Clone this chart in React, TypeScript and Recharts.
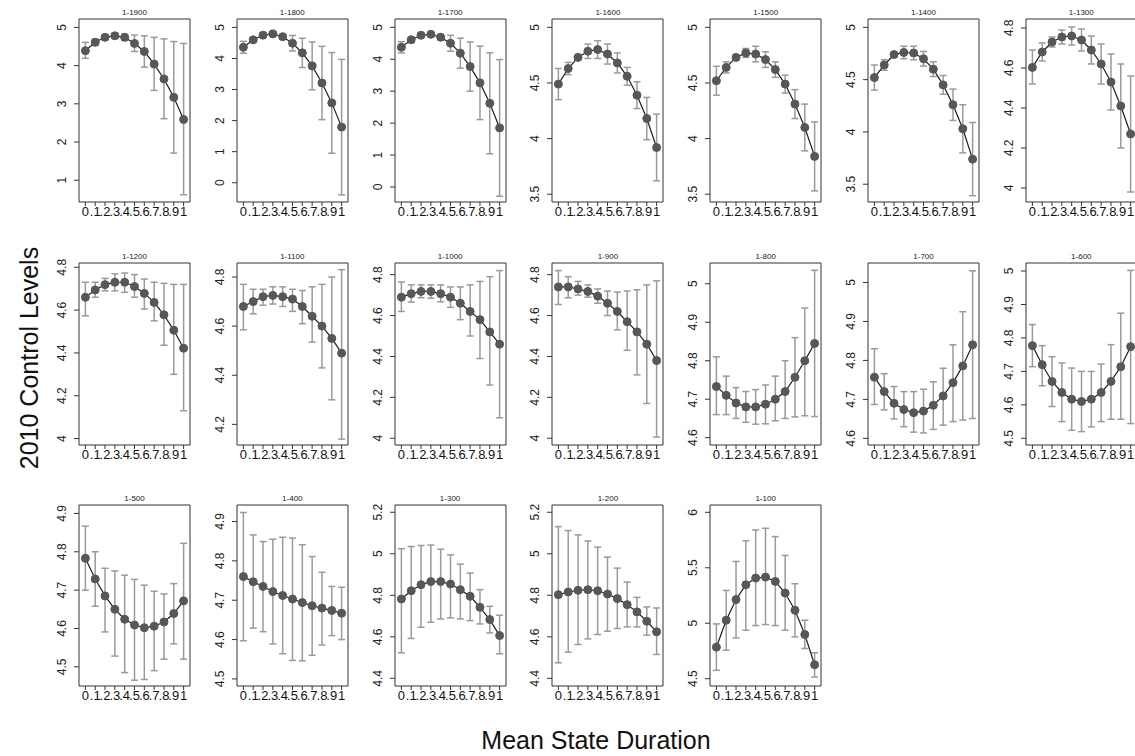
import React from "react";
import { ComposedChart, Line, XAxis, YAxis, ErrorBar, ReferenceArea } from "recharts";

// x positions shared by every panel
const durations = [0, 0.1, 0.2, 0.3, 0.4, 0.5, 0.6, 0.7, 0.8, 0.9, 1];
const durationLabels = ["0", ".1", ".2", ".3", ".4", ".5", ".6", ".7", ".8", ".9", "1"];

// row 1
const mean1900 = [4.39, 4.61, 4.74, 4.78, 4.74, 4.58, 4.37, 4.04, 3.65, 3.17, 2.59];
const hi1900 = [4.61, 4.69, 4.8, 4.85, 4.82, 4.8, 4.78, 4.74, 4.7, 4.63, 4.58];
const lo1900 = [4.19, 4.53, 4.68, 4.71, 4.66, 4.37, 3.96, 3.35, 2.61, 1.71, 0.62];

const mean1800 = [4.36, 4.6, 4.75, 4.79, 4.7, 4.49, 4.18, 3.76, 3.21, 2.57, 1.79];
const hi1800 = [4.55, 4.67, 4.81, 4.86, 4.77, 4.74, 4.65, 4.53, 4.39, 4.19, 3.97];
const lo1800 = [4.17, 4.53, 4.69, 4.72, 4.63, 4.24, 3.71, 2.99, 2.03, 0.95, -0.39];

const mean1700 = [4.375, 4.61, 4.75, 4.78, 4.69, 4.5, 4.19, 3.77, 3.26, 2.62, 1.85];
const hi1700 = [4.55, 4.68, 4.81, 4.85, 4.78, 4.75, 4.66, 4.54, 4.41, 4.2, 3.99];
const lo1700 = [4.2, 4.54, 4.69, 4.71, 4.6, 4.25, 3.72, 3.0, 2.11, 1.04, -0.29];

const mean1600 = [4.49, 4.63, 4.73, 4.785, 4.8, 4.76, 4.68, 4.56, 4.39, 4.18, 3.92];
const hi1600 = [4.63, 4.685, 4.755, 4.85, 4.88, 4.85, 4.77, 4.64, 4.51, 4.37, 4.22];
const lo1600 = [4.35, 4.575, 4.705, 4.72, 4.72, 4.67, 4.59, 4.48, 4.27, 3.99, 3.62];

const mean1500 = [4.52, 4.64, 4.73, 4.77, 4.76, 4.71, 4.62, 4.49, 4.31, 4.1, 3.84];
const hi1500 = [4.65, 4.69, 4.75, 4.81, 4.83, 4.78, 4.69, 4.57, 4.44, 4.31, 4.15];
const lo1500 = [4.39, 4.59, 4.71, 4.73, 4.69, 4.64, 4.55, 4.41, 4.18, 3.89, 3.53];

const mean1400 = [4.52, 4.64, 4.74, 4.76, 4.755, 4.7, 4.6, 4.45, 4.26, 4.03, 3.74];
const hi1400 = [4.64, 4.69, 4.765, 4.82, 4.82, 4.77, 4.67, 4.54, 4.41, 4.26, 4.09];
const lo1400 = [4.4, 4.59, 4.715, 4.7, 4.69, 4.63, 4.53, 4.36, 4.11, 3.8, 3.39];

const mean1300 = [4.603, 4.68, 4.73, 4.755, 4.76, 4.74, 4.69, 4.62, 4.53, 4.41, 4.27];
const hi1300 = [4.69, 4.725, 4.755, 4.79, 4.805, 4.795, 4.76, 4.72, 4.67, 4.62, 4.56];
const lo1300 = [4.52, 4.635, 4.705, 4.72, 4.715, 4.685, 4.62, 4.52, 4.39, 4.2, 3.98];

// row 2
const mean1200 = [4.66, 4.694, 4.719, 4.73, 4.73, 4.71, 4.678, 4.636, 4.578, 4.506, 4.422];
const hi1200 = [4.73, 4.73, 4.748, 4.769, 4.773, 4.766, 4.745, 4.73, 4.725, 4.72, 4.72];
const lo1200 = [4.573, 4.66, 4.69, 4.69, 4.683, 4.66, 4.605, 4.55, 4.436, 4.3, 4.13];

const mean1100 = [4.68, 4.7, 4.72, 4.725, 4.72, 4.71, 4.68, 4.64, 4.6, 4.55, 4.49];
const hi1100 = [4.77, 4.75, 4.75, 4.76, 4.76, 4.75, 4.745, 4.76, 4.77, 4.8, 4.83];
const lo1100 = [4.585, 4.65, 4.685, 4.69, 4.68, 4.66, 4.61, 4.535, 4.43, 4.3, 4.14];

const mean1000 = [4.69, 4.707, 4.718, 4.718, 4.707, 4.69, 4.66, 4.62, 4.58, 4.52, 4.46];
const hi1000 = [4.764, 4.75, 4.75, 4.75, 4.75, 4.74, 4.74, 4.75, 4.767, 4.79, 4.82];
const lo1000 = [4.62, 4.666, 4.687, 4.685, 4.667, 4.64, 4.58, 4.5, 4.39, 4.26, 4.1];

const mean900 = [4.74, 4.74, 4.73, 4.718, 4.695, 4.66, 4.62, 4.57, 4.52, 4.46, 4.38];
const hi900 = [4.82, 4.79, 4.767, 4.75, 4.73, 4.72, 4.715, 4.72, 4.726, 4.75, 4.77];
const lo900 = [4.654, 4.687, 4.7, 4.69, 4.66, 4.6, 4.53, 4.43, 4.31, 4.17, 4.006];

const mean800 = [4.733, 4.71, 4.69, 4.68, 4.68, 4.687, 4.7, 4.72, 4.757, 4.8, 4.845];
const hi800 = [4.81, 4.76, 4.73, 4.72, 4.725, 4.737, 4.76, 4.8, 4.86, 4.937, 5.035];
const lo800 = [4.66, 4.66, 4.65, 4.64, 4.635, 4.636, 4.644, 4.65, 4.654, 4.657, 4.655];

const mean700 = [4.757, 4.72, 4.69, 4.674, 4.666, 4.67, 4.685, 4.709, 4.743, 4.786, 4.84];
const hi700 = [4.83, 4.766, 4.733, 4.72, 4.72, 4.726, 4.745, 4.78, 4.84, 4.925, 5.03];
const lo700 = [4.687, 4.673, 4.65, 4.63, 4.616, 4.614, 4.623, 4.634, 4.643, 4.647, 4.651];

const mean600 = [4.777, 4.72, 4.67, 4.637, 4.617, 4.61, 4.617, 4.637, 4.67, 4.714, 4.774];
const hi600 = [4.84, 4.777, 4.744, 4.725, 4.71, 4.7, 4.7, 4.722, 4.78, 4.874, 5.002];
const lo600 = [4.714, 4.657, 4.595, 4.55, 4.524, 4.52, 4.534, 4.55, 4.557, 4.557, 4.544];

// row 3
const mean500 = [4.783, 4.729, 4.685, 4.65, 4.624, 4.609, 4.602, 4.606, 4.617, 4.639, 4.672];
const hi500 = [4.867, 4.8, 4.757, 4.75, 4.739, 4.728, 4.713, 4.697, 4.69, 4.717, 4.822];
const lo500 = [4.7, 4.658, 4.591, 4.528, 4.485, 4.465, 4.467, 4.49, 4.52, 4.56, 4.52];

const mean400 = [4.76, 4.747, 4.735, 4.722, 4.712, 4.703, 4.694, 4.686, 4.68, 4.674, 4.667];
const hi400 = [4.923, 4.866, 4.849, 4.855, 4.86, 4.858, 4.841, 4.811, 4.771, 4.735, 4.733];
const lo400 = [4.597, 4.629, 4.62, 4.589, 4.564, 4.547, 4.546, 4.56, 4.586, 4.61, 4.6];

const mean300 = [4.782, 4.822, 4.851, 4.866, 4.866, 4.854, 4.827, 4.795, 4.742, 4.683, 4.606];
const hi300 = [5.024, 5.035, 5.04, 5.042, 5.022, 4.995, 4.95, 4.907, 4.827, 4.747, 4.704];
const lo300 = [4.523, 4.592, 4.646, 4.67, 4.686, 4.691, 4.686, 4.678, 4.662, 4.619, 4.518];

const mean200 = [4.803, 4.816, 4.824, 4.827, 4.822, 4.806, 4.784, 4.755, 4.72, 4.675, 4.624];
const hi200 = [5.131, 5.112, 5.091, 5.062, 5.032, 4.984, 4.931, 4.864, 4.79, 4.744, 4.739];
const lo200 = [4.475, 4.526, 4.563, 4.59, 4.611, 4.627, 4.64, 4.648, 4.648, 4.608, 4.515];

const mean100 = [4.784, 5.027, 5.213, 5.347, 5.407, 5.416, 5.377, 5.272, 5.117, 4.898, 4.626];
const hi100 = [4.994, 5.296, 5.557, 5.743, 5.841, 5.856, 5.781, 5.611, 5.356, 5.027, 4.734];
const lo100 = [4.575, 4.757, 4.868, 4.937, 4.979, 4.988, 4.979, 4.937, 4.877, 4.772, 4.515];

// y tick sets
const ticks0to5 = [0, 1, 2, 3, 4, 5];
const ticks1to5 = [1, 2, 3, 4, 5];
const ticks35to5 = [3.5, 4, 4.5, 5];
const ticks4to48 = [4, 4.2, 4.4, 4.6, 4.8];
const ticks42to48 = [4.2, 4.4, 4.6, 4.8];
const ticks46to5 = [4.6, 4.7, 4.8, 4.9, 5];
const ticks45to5 = [4.5, 4.6, 4.7, 4.8, 4.9, 5];
const ticks45to49 = [4.5, 4.6, 4.7, 4.8, 4.9];
const ticks44to52 = [4.4, 4.6, 4.8, 5, 5.2];
const ticks45to6 = [4.5, 5, 5.5, 6];

const panels = [
  { title: "1-1900", mean: mean1900, hi: hi1900, lo: lo1900, ticks: ticks1to5, domain: [0.43, 5.22] },
  { title: "1-1800", mean: mean1800, hi: hi1800, lo: lo1800, ticks: ticks0to5, domain: [-0.62, 5.27] },
  { title: "1-1700", mean: mean1700, hi: hi1700, lo: lo1700, ticks: ticks0to5, domain: [-0.47, 5.26] },
  { title: "1-1600", mean: mean1600, hi: hi1600, lo: lo1600, ticks: ticks35to5, domain: [3.43, 5.075] },
  { title: "1-1500", mean: mean1500, hi: hi1500, lo: lo1500, ticks: ticks35to5, domain: [3.43, 5.075] },
  { title: "1-1400", mean: mean1400, hi: hi1400, lo: lo1400, ticks: ticks35to5, domain: [3.33, 5.08] },
  { title: "1-1300", mean: mean1300, hi: hi1300, lo: lo1300, ticks: ticks4to48, domain: [3.93, 4.845] },
  { title: "1-1200", mean: mean1200, hi: hi1200, lo: lo1200, ticks: ticks4to48, domain: [3.97, 4.82] },
  { title: "1-1100", mean: mean1100, hi: hi1100, lo: lo1100, ticks: ticks42to48, domain: [4.116, 4.857] },
  { title: "1-1000", mean: mean1000, hi: hi1000, lo: lo1000, ticks: ticks4to48, domain: [3.967, 4.857] },
  { title: "1-900", mean: mean900, hi: hi900, lo: lo900, ticks: ticks4to48, domain: [3.967, 4.857] },
  { title: "1-800", mean: mean800, hi: hi800, lo: lo800, ticks: ticks46to5, domain: [4.581, 5.054] },
  { title: "1-700", mean: mean700, hi: hi700, lo: lo700, ticks: ticks46to5, domain: [4.583, 5.05] },
  { title: "1-600", mean: mean600, hi: hi600, lo: lo600, ticks: ticks45to5, domain: [4.48, 5.024] },
  { title: "1-500", mean: mean500, hi: hi500, lo: lo500, ticks: ticks45to49, domain: [4.45, 4.922] },
  { title: "1-400", mean: mean400, hi: hi400, lo: lo400, ticks: ticks45to49, domain: [4.482, 4.942] },
  { title: "1-300", mean: mean300, hi: hi300, lo: lo300, ticks: ticks44to52, domain: [4.363, 5.235] },
  { title: "1-200", mean: mean200, hi: hi200, lo: lo200, ticks: ticks44to52, domain: [4.363, 5.235] },
  { title: "1-100", mean: mean100, hi: hi100, lo: lo100, ticks: ticks45to6, domain: [4.434, 6.066] },
];

const FONT = "'Liberation Sans', Arial, Helvetica, sans-serif";
const X_DOMAIN = [-0.065, 1.065];
const BOX_W = 111;
const ROW_TOP = [18.5, 262.5, 505];
const ROW_H = [183, 182, 181];
const Y_W = 40;
const M_TOP = 14;
const M_RIGHT = 4;
const X_H = 28;

function YTick(props: any) {
  const { x, y, payload } = props;
  return (
    <text
      x={x}
      y={y}
      transform={`rotate(-90 ${x} ${y})`}
      textAnchor="middle"
      fontSize={12}
      fontFamily={FONT}
      fill="#222"
    >
      {payload.value}
    </text>
  );
}

function Panel({ p, idx }: { p: any; idx: number }) {
  const col = idx % 7;
  const row = Math.floor(idx / 7);
  const boxLeft = 79 + col * 157.8;
  const boxTop = ROW_TOP[row];
  const boxH = ROW_H[row];

  const rows = durations.map((x, k) => ({
    x,
    mean: p.mean[k],
    err: [p.mean[k] - p.lo[k], p.hi[k] - p.mean[k]],
  }));

  return (
    <>
      <div
        style={{
          position: "absolute",
          left: boxLeft,
          top: boxTop - 11,
          width: BOX_W,
          textAlign: "center",
          fontSize: 8,
          fontFamily: FONT,
          color: "#222",
          lineHeight: "9px",
          zIndex: 2,
        }}
      >
        {p.title}
      </div>
      <div style={{ position: "absolute", left: boxLeft - Y_W, top: boxTop - M_TOP }}>
        <ComposedChart
          width={Y_W + BOX_W + M_RIGHT}
          height={M_TOP + boxH + X_H}
          data={rows}
          margin={{ top: M_TOP, right: M_RIGHT, left: 0, bottom: 0 }}
        >
          <XAxis
            type="number"
            dataKey="x"
            domain={X_DOMAIN}
            allowDataOverflow
            ticks={durations}
            interval={0}
            tickFormatter={(v: number) => durationLabels[durations.indexOf(v)]}
            tickSize={4}
            tickMargin={1}
            axisLine={false}
            tickLine={{ stroke: "#333" }}
            tick={{ fontSize: 13, fill: "#111", fontFamily: FONT }}
            height={X_H}
          />
          <YAxis
            type="number"
            domain={p.domain}
            allowDataOverflow
            ticks={p.ticks}
            interval={0}
            tickSize={5}
            tickMargin={8}
            axisLine={false}
            tickLine={{ stroke: "#333" }}
            tick={<YTick />}
            width={Y_W}
          />
          <ReferenceArea
            x1={X_DOMAIN[0]}
            x2={X_DOMAIN[1]}
            y1={p.domain[0]}
            y2={p.domain[1]}
            fill="none"
            stroke="#333"
            strokeWidth={1}
            ifOverflow="visible"
          />
          <Line
            dataKey="mean"
            stroke="none"
            dot={false}
            activeDot={false}
            isAnimationActive={false}
          >
            <ErrorBar dataKey="err" direction="y" width={3.5} stroke="#9a9a9a" strokeWidth={1.5} />
          </Line>
          <Line
            type="linear"
            dataKey="mean"
            stroke="#1e1e1e"
            strokeWidth={1.2}
            dot={{ r: 4, fill: "#575757", stroke: "#575757", strokeWidth: 1 }}
            activeDot={false}
            isAnimationActive={false}
          />
        </ComposedChart>
      </div>
    </>
  );
}

export default function App() {
  return (
    <div
      style={{
        position: "absolute",
        left: 0,
        top: 0,
        width: 1135,
        height: 756,
        background: "#fff",
        overflow: "hidden",
        fontFamily: FONT,
      }}
    >
      {panels.map((p, i) => (
        <Panel key={p.title} p={p} idx={i} />
      ))}
      <div
        style={{
          position: "absolute",
          left: 29,
          top: 358,
          transform: "translate(-50%, -50%) rotate(-90deg)",
          whiteSpace: "nowrap",
          fontSize: 25,
          color: "#111",
        }}
      >
        2010 Control Levels
      </div>
      <div
        style={{
          position: "absolute",
          left: 596,
          top: 740,
          transform: "translate(-50%, -50%)",
          whiteSpace: "nowrap",
          fontSize: 25,
          color: "#111",
        }}
      >
        Mean State Duration
      </div>
    </div>
  );
}
